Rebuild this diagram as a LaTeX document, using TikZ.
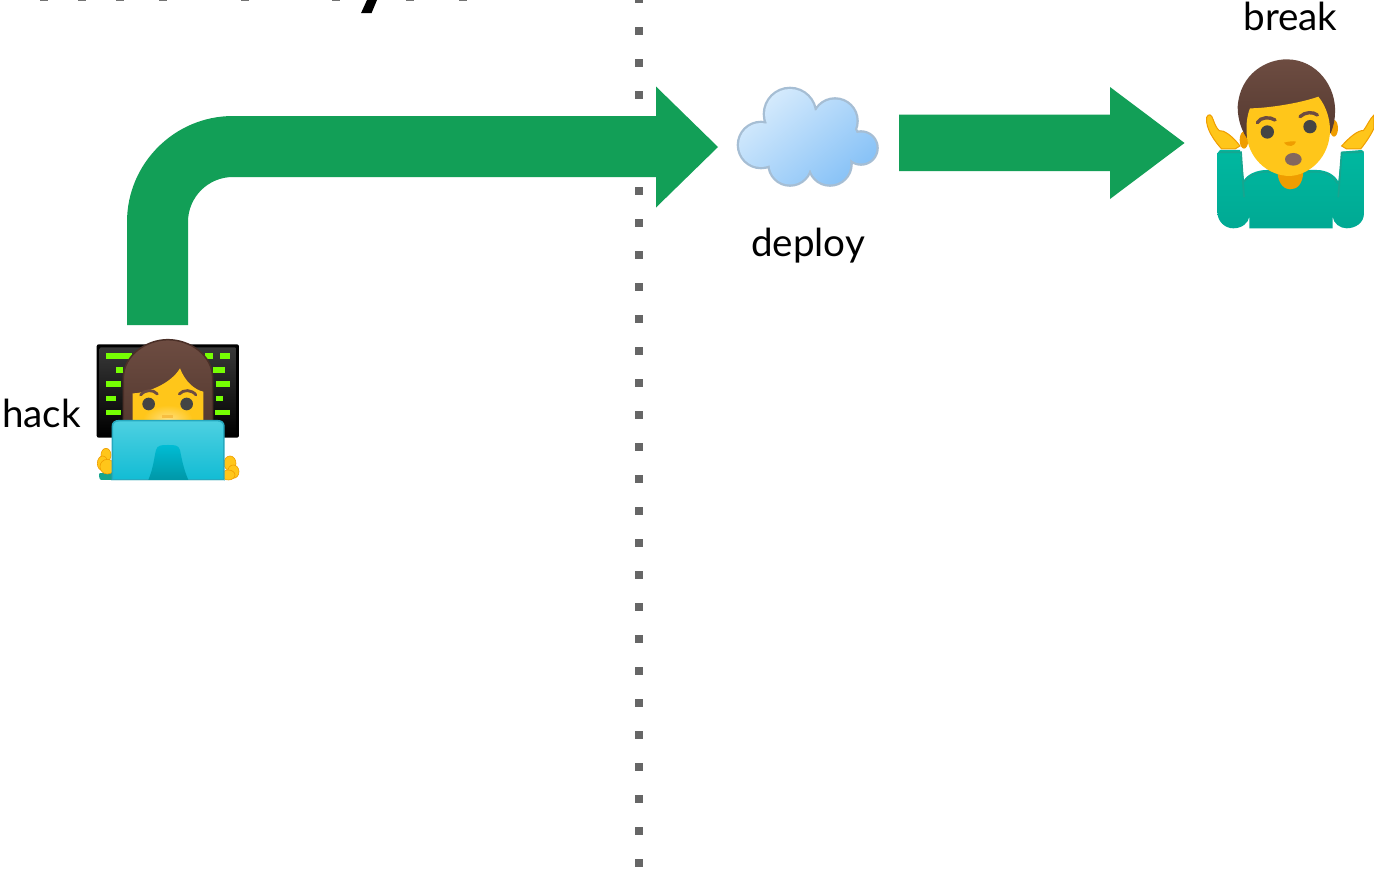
\documentclass[tikz,border=0pt]{standalone}
\usepackage{fontspec}
\setmainfont{Lato}
\definecolor{arrowgreen}{HTML}{129F57}
\definecolor{dotgray}{HTML}{666666}
\definecolor{skin}{HTML}{FFC61A}
\definecolor{skinlight}{HTML}{FFE082}
\definecolor{skindark}{HTML}{EF9D00}
\definecolor{hairtop}{HTML}{6D4C41}
\definecolor{hairlow}{HTML}{543930}
\definecolor{hairedge}{HTML}{4A2F27}
\definecolor{brow}{HTML}{6D4C41}
\definecolor{eye}{HTML}{444444}
\definecolor{code}{HTML}{76FF03}
\definecolor{teal}{HTML}{00B8A0}
\definecolor{tealdark}{HTML}{17A58F}
\definecolor{cyanA}{HTML}{4DD0E1}
\definecolor{cyanB}{HTML}{12BCD4}
\definecolor{cyanedge}{HTML}{26A9BF}
\definecolor{cyanC}{HTML}{00BCD4}
\definecolor{cyanD}{HTML}{0097A7}
\definecolor{cloudA}{HTML}{E0F0FD}
\definecolor{cloudB}{HTML}{7CBCF6}
\definecolor{cloudedge}{HTML}{A6BED4}
\tikzset{
  label/.style={font=\fontsize{38.6}{42}\selectfont,anchor=base,inner sep=0pt,text=black},
  blockarrow/.style={fill=arrowgreen,draw=none},
  divider/.style={line width=8pt,dash pattern=on 8pt off 24pt,draw=dotgray},
  titlebit/.style={fill=black!55,draw=none},
  zoomed/.style={x=0.3333pt,y=-0.3333pt}
}
\begin{document}
\begin{tikzpicture}[x=1pt,y=-1pt]
\useasboundingbox (0,0) rectangle (1374,870);
\clip (0,0) rectangle (1374,870);
\fill[white] (0,0) rectangle (1374,870);

% bottoms of the cut-off title
\foreach \tx in {44,82,120,163,245,336,410,463}
  \fill[titlebit] (\tx-4,0) rectangle (\tx+4,1);
\fill[black] (367,0) -- (377,0) -- (371.5,13.2) -- (361,13.2) -- cycle;

% divider
\coordinate (divtop) at (639,-5);
\coordinate (divbottom) at (639,870);
\draw[divider] (divtop) -- (divbottom);

% arrows
\coordinate (cloudin) at (718,147);
\fill[blockarrow] (127,325) -- (127,222) .. controls (127,163.5) and (174.5,116) .. (233,116)
  -- (656,116) -- (656,86.5) -- (cloudin) -- (656,207.5) -- (656,177) -- (233,177)
  .. controls (208.1,177) and (188,197.1) .. (188,222) -- (188,325) -- cycle;
\coordinate (breakin) at (1184.5,143);
\fill[blockarrow] (899,114.5) -- (1110,114.5) -- (1110,87) -- (breakin) -- (1110,199) -- (1110,171) -- (899,171) -- cycle;

% cloud
\draw[cloudedge,line width=4.6pt,fill=cloudedge] (790,114) circle[radius=25] (835,121) circle[radius=21.5] (861,148) circle[radius=15.5]
  (830,164) circle[radius=20.5] (790,164) circle[radius=20.5] (761,145) circle[radius=22]
  (808,140) ellipse[x radius=50,y radius=30];
\begin{scope}
\clip (790,114) circle[radius=25] (835,121) circle[radius=21.5] (861,148) circle[radius=15.5]
  (830,164) circle[radius=20.5] (790,164) circle[radius=20.5] (761,145) circle[radius=22]
  (808,140) ellipse[x radius=50,y radius=30];
\shade[top color=cloudA,bottom color=cloudB,shading angle=40] (728,70) rectangle (890,205);
\end{scope}

% labels
\node[label] (breaklabel) at (1290.5,30.5) {break};
\node[label] (deploylabel) at (808,256.5) {deploy};
\node[label] (hacklabel) at (41.5,427.5) {hack};

% woman at a laptop
\begin{scope}[shift={(90,335)},zoomed]
\fill[black,rounded corners=2pt] (20,28) rectangle (447,308);
\shade[top color=black!78,bottom color=black,rounded corners=1pt] (29,37) rectangle (438,300);
\foreach \xa/\xb/\ya/\yb in {48/125/55/71,345/370/55/71,390/420/55/71,78/100/97/113,370/405/97/113,48/92/139/155,378/420/139/155,48/78/182/197,378/398/182/197,48/92/224/240,375/420/224/240}
  \fill[code] (\xa,\ya) rectangle (\xb,\yb);
\shade[top color=hairtop,bottom color=hairlow,draw=hairedge,line width=1.5pt]
  (100,270) -- (100,130) .. controls (100,60) and (170,14) .. (233,14)
  .. controls (300,14) and (368,60) .. (368,130) -- (368,270) -- cycle;
\fill[skin] (128,270) -- (128,175) .. controls (165,175) and (240,150) .. (270,100)
  .. controls (285,140) and (315,165) .. (340,170) -- (340,270) -- cycle;
\shade[inner color=skinlight,outer color=skin] (233,255) ellipse[x radius=75,y radius=45];
\draw[brow,line width=2.8pt,line cap=round] (152,180) .. controls (165,163) and (190,163) .. (202,177);
\draw[brow,line width=2.8pt,line cap=round] (268,177) .. controls (280,163) and (305,163) .. (318,180);
\fill[eye] (176,207) circle[radius=19];
\fill[eye] (290,207) circle[radius=19];
\fill[skindark!50!skinlight] (217,240) rectangle (250,248);
% hands
\fill[tealdark] (28,415) -- (70,410) -- (70,435) -- (35,435) .. controls (28,435) and (26,425) .. (28,415) -- cycle;
\begin{scope}[fill=skin,draw=skindark,line width=.6pt]
\filldraw (48,360) ellipse[x radius=15,y radius=20];
\filldraw (38,385) ellipse[x radius=16,y radius=22];
\filldraw (52,395) ellipse[x radius=22,y radius=22];
\filldraw (420,385) ellipse[x radius=18,y radius=22];
\filldraw (430,410) ellipse[x radius=17,y radius=20];
\filldraw (415,420) ellipse[x radius=20,y radius=15];
\end{scope}
% laptop
\shade[top color=cyanA,bottom color=cyanB,draw=cyanedge,line width=1.5pt]
  (67,435) -- (67,275) .. controls (67,262) and (75,257) .. (87,257) -- (382,257)
  .. controls (394,257) and (402,262) .. (402,275) -- (402,435) -- cycle;
\shade[top color=cyanC,bottom color=cyanD]
  (175,435) .. controls (190,400) and (192,370) .. (198,345) .. controls (202,330) and (215,330) .. (234,330)
  .. controls (255,330) and (265,330) .. (270,345) .. controls (275,370) and (280,400) .. (295,435) -- cycle;
\draw[white!80!cyanD,line width=.8pt] (67,435) -- (402,435);
\end{scope}

% man shrugging
\begin{scope}[shift={(1190,0)},zoomed]
% body
\shade[top color=teal,bottom color=teal!92!black]
  (90,450) -- (150,450) -- (162,540) .. controls (175,520) and (205,510) .. (230,510) -- (380,510)
  .. controls (410,510) and (435,525) .. (445,545) -- (455,455) -- (515,450)
  .. controls (520,452) and (522,455) .. (522,460) -- (522,640) .. controls (522,670) and (495,685) .. (470,685)
  .. controls (450,685) and (430,670) .. (428,650) -- (428,685) -- (178,685) -- (178,650)
  .. controls (175,670) and (155,685) .. (130,685) .. controls (105,685) and (82,665) .. (82,635) -- (82,460) -- cycle;
\draw[tealdark,line width=1.8pt,line cap=round] (88,457) -- (153,457) -- (162,590);
\draw[tealdark,line width=1.8pt,line cap=round] (518,456) -- (455,458) -- (445,590);
\draw[tealdark,line width=1.2pt,line cap=round] (162,545) .. controls (180,525) and (205,516) .. (230,516) -- (380,516) .. controls (410,516) and (430,530) .. (442,550);
% hands
\fill[skin,draw=skindark,line width=1pt] (50,352) .. controls (55,340) and (65,342) .. (70,360)
  .. controls (75,375) and (80,385) .. (88,392) .. controls (100,390) and (125,405) .. (150,438)
  -- (135,447) -- (95,447) .. controls (75,425) and (45,385) .. (50,352) -- cycle;
\fill[skin,draw=skindark,line width=1pt] (552,345) .. controls (540,355) and (530,380) .. (520,392)
  .. controls (505,390) and (480,410) .. (455,438) -- (470,447) -- (512,447)
  .. controls (530,425) and (545,400) .. (552,385) -- cycle;
% neck, ears, hair
\fill[skindark] (262,515) .. controls (265,555) and (285,568) .. (300,568) .. controls (320,568) and (338,555) .. (340,515) -- cycle;
\fill[skindark] (162,420) ellipse[x radius=13,y radius=26];
\fill[skindark] (432,385) ellipse[x radius=12,y radius=25];
\shade[top color=hairtop,bottom color=hairlow]
  (178,425) .. controls (155,395) and (143,360) .. (143,320) .. controls (150,220) and (230,178) .. (290,178)
  .. controls (380,178) and (440,260) .. (435,340) .. controls (435,360) and (430,380) .. (422,400) -- cycle;
\fill[skin] (180,325) .. controls (230,325) and (330,310) .. (385,290) .. controls (410,320) and (420,360) .. (420,390)
  .. controls (420,470) and (360,525) .. (300,528) .. controls (230,528) and (172,470) .. (170,400)
  .. controls (168,370) and (172,345) .. (180,325) -- cycle;
\draw[brow,line width=3.4pt,line cap=round] (202,368) .. controls (212,350) and (240,350) .. (255,360);
\draw[brow,line width=3.4pt,line cap=round] (330,350) .. controls (345,335) and (370,335) .. (382,345);
\fill[eye] (232,396) circle[radius=20];
\fill[eye] (360,380) circle[radius=20];
\fill[skindark] (282,428) .. controls (295,425) and (310,422) .. (318,425) .. controls (315,438) and (295,445) .. (282,428) -- cycle;
\fill[brow!85!white] (310,478) ellipse[x radius=25,y radius=19];
\end{scope}
\end{tikzpicture}
\end{document}
